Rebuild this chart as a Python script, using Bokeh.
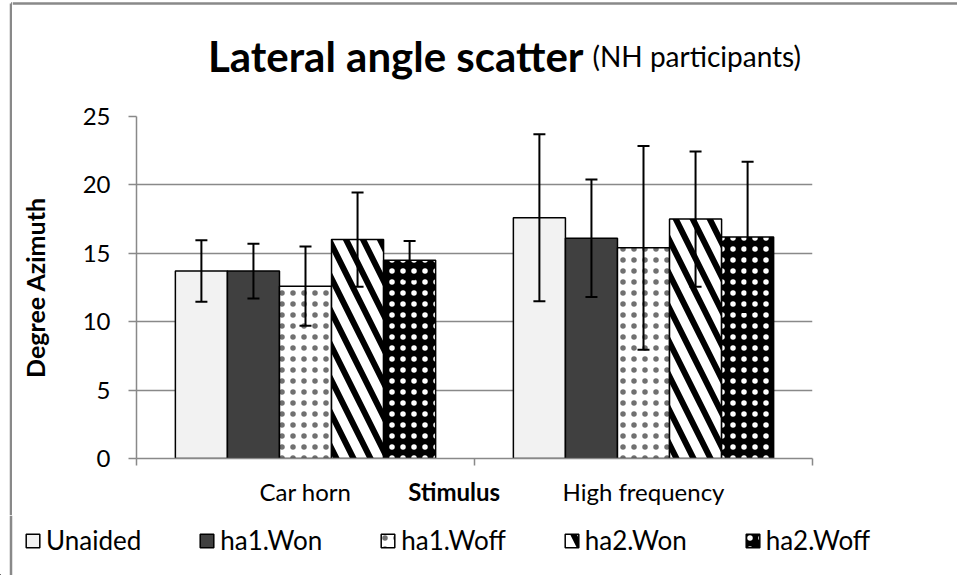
from bokeh.plotting import figure
from bokeh.layouts import row, column
from bokeh.models import (Range1d, FixedTicker, Label, Legend, LegendItem, Whisker,
                          ColumnDataSource, TeeHead, LinearAxis)
from bokeh.embed import file_html
from bokeh.resources import INLINE

# ---- data ----
categories = ["Car horn", "High frequency"]
series = ["Unaided", "ha1.Won", "ha1.Woff", "ha2.Won", "ha2.Woff"]
unaided = [13.7, 17.6]
ha1_won = [13.7, 16.1]
ha1_woff = [12.6, 15.4]
ha2_won = [16.0, 17.5]
ha2_woff = [14.5, 16.2]
unaided_err = [2.25, 6.1]
ha1_won_err = [2.0, 4.3]
ha1_woff_err = [2.9, 7.45]
ha2_won_err = [3.45, 4.95]
ha2_woff_err = [1.4, 5.5]
y_ticks = [0, 5, 10, 15, 20, 25]
title_main = "Lateral angle scatter"
title_sub = "(NH participants)"
x_title = "Stimulus"
y_title = "Degree Azimuth"

values = [unaided, ha1_won, ha1_woff, ha2_won, ha2_woff]
errors = [unaided_err, ha1_won_err, ha1_woff_err, ha2_won_err, ha2_woff_err]

FONT = "Lato"
GRAY = "#898989"
W, H = 957, 575
STRIP = 12
HEAD = 100
FOOT = 60
X_TITLE_POS = 0.94   # where the axis title sits along the x axis (layout)


def bare(width, height, x0, x1, y0, y1):
    f = figure(width=width, height=height, output_backend="svg", toolbar_location=None,
               x_range=Range1d(x0, x1), y_range=Range1d(y0, y1),
               x_axis_location=None, y_axis_location=None, min_border=0,
               frame_align=False)
    f.outline_line_color = None
    f.grid.visible = False
    return f


# left strip with chart-area border (upper part of the page)
strip = bare(STRIP, H - FOOT, 0, STRIP, H - FOOT, 0)
strip.segment(x0=[10.5, 10.5], y0=[3, 3], x1=[10.5, STRIP], y1=[H - FOOT, 3],
              line_color=GRAY, line_width=2.5)

# title strip
head = bare(W - STRIP, HEAD, STRIP, W, HEAD, 0)
head.segment(x0=[STRIP], y0=[3], x1=[W], y1=[3], line_color=GRAY, line_width=2.5)
head.add_layout(Label(x=583, y=55, text=title_main, text_align="right",
                      text_baseline="alphabetic", text_font=FONT, text_font_style="bold",
                      text_font_size="42px", text_color="black"))
head.add_layout(Label(x=592, y=55, text=title_sub, text_align="left",
                      text_baseline="alphabetic", text_font=FONT,
                      text_font_size="28px", text_color="black"))

styles = [
    dict(fill_color="#f2f2f2"),
    dict(fill_color="#404040"),
    dict(fill_color="white", hatch_pattern="dot", hatch_color="#707070", hatch_scale=11, hatch_weight=1),
    dict(fill_color="white", hatch_pattern="\\", hatch_color="black", hatch_scale=34, hatch_weight=6),
    dict(fill_color="black", hatch_pattern="dot", hatch_color="white", hatch_scale=11, hatch_weight=1),
]

# main chart: frame at page x 136..812, y 116..458
P_TOP, P_BOT = HEAD, H - FOOT
p = figure(width=W - STRIP, height=P_BOT - P_TOP, output_backend="svg", toolbar_location=None,
           x_range=Range1d(0, 2), y_range=Range1d(0, 25), frame_align=False,
           min_border_left=136 - STRIP, min_border_right=W - 812,
           min_border_top=116 - P_TOP, min_border_bottom=P_BOT - 458)
p.outline_line_color = None

bar_w = 0.154
n = len(series)
# full-width footer for the legend (and the lower part of the left border)
foot = bare(W, FOOT, 0, W, FOOT, 0)
foot.segment(x0=[10.5], y0=[0], x1=[10.5], y1=[FOOT], line_color=GRAY, line_width=2.5)
foot.extra_x_ranges = {"off": Range1d(1000, 2000)}
foot.extra_y_ranges = {"off": Range1d(1000, 2000)}
items = []
for j, (name, vals, errs, st) in enumerate(zip(series, values, errors, styles)):
    xs = [i + 0.5 + (j - (n - 1) / 2) * bar_w for i in range(len(categories))]
    src = ColumnDataSource(dict(x=xs, top=vals,
                                upper=[v + e for v, e in zip(vals, errs)],
                                lower=[v - e for v, e in zip(vals, errs)]))
    p.vbar(x="x", top="top", bottom=0, width=bar_w, source=src,
           line_color="black", line_width=1.5, **st)
    wh = Whisker(base="x", upper="upper", lower="lower", source=src,
                 line_color="black", line_width=2, level="overlay",
                 upper_head=TeeHead(size=12, line_width=2, line_color="black"),
                 lower_head=TeeHead(size=12, line_width=2, line_color="black"))
    p.add_layout(wh)
    # swatch renderer for the legend: same data, mapped to an off-screen range
    fr = foot.vbar(x="x", top="top", bottom=0, width=bar_w, source=src,
                   x_range_name="off", y_range_name="off",
                   line_color="black", line_width=1.5, **st)
    items.append(LegendItem(label=name, renderers=[fr]))

p.xgrid.grid_line_color = None
p.ygrid.ticker = FixedTicker(ticks=y_ticks)
p.ygrid.grid_line_color = GRAY
p.ygrid.grid_line_width = 1.5

ya = p.yaxis[0]
ya.ticker = FixedTicker(ticks=y_ticks)
ya.axis_line_color = GRAY
ya.axis_line_width = 1.5
ya.major_tick_line_color = GRAY
ya.major_tick_line_width = 1.5
ya.major_tick_in = 0
ya.major_tick_out = 8
ya.minor_tick_line_color = None
ya.major_label_standoff = 18
ya.major_label_text_font = FONT
ya.major_label_text_font_size = "24px"
ya.major_label_text_color = "black"
ya.axis_label = y_title
ya.axis_label_text_font = FONT
ya.axis_label_text_font_style = "bold"
ya.axis_label_text_font_size = "25px"
ya.axis_label_text_color = "black"
ya.axis_label_standoff = 30

xa = p.xaxis[0]
xa.ticker = FixedTicker(ticks=[i + 0.5 for i in range(len(categories))],
                        minor_ticks=list(range(len(categories) + 1)))
xa.major_label_overrides = {i + 0.5: c for i, c in enumerate(categories)}
xa.axis_line_color = GRAY
xa.axis_line_width = 1.5
xa.major_tick_line_color = None
xa.major_tick_in = 0
xa.major_tick_out = 0
xa.minor_tick_line_color = GRAY
xa.minor_tick_line_width = 1.5
xa.minor_tick_in = 0
xa.minor_tick_out = 7
xa.major_label_standoff = 11
xa.major_label_text_font = FONT
xa.major_label_text_font_size = "24px"
xa.major_label_text_color = "black"

# axis title "Stimulus", drawn as the single label of a second (line-less) bottom axis
xt = LinearAxis(ticker=FixedTicker(ticks=[X_TITLE_POS], minor_ticks=[]),
                major_label_overrides={X_TITLE_POS: x_title},
                axis_line_color=None, major_tick_line_color=None, minor_tick_line_color=None,
                major_tick_out=0, major_tick_in=0, minor_tick_out=0, minor_tick_in=0,
                major_label_standoff=-32, major_label_text_font=FONT,
                major_label_text_font_style="bold", major_label_text_font_size="24px",
                major_label_text_color="black")
p.add_layout(xt, "below")

legend = Legend(items=items, orientation="horizontal", location=(24, 19),
                glyph_width=17, glyph_height=17, label_standoff=5, spacing=57,
                padding=0, margin=0, border_line_color=None, background_fill_alpha=0,
                label_text_font=FONT, label_text_font_size="26px", label_text_color="black")
foot.add_layout(legend)

layout = column(row(strip, column(head, p)), foot)
open("out.html", "w").write(file_html(layout, INLINE))
